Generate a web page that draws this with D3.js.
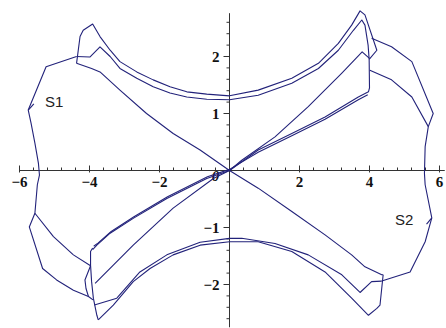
<!DOCTYPE html>
<html><head><meta charset="utf-8">
<script src="https://cdn.jsdelivr.net/npm/d3@7"></script>
<style>html,body{margin:0;padding:0;background:#fff;}svg{display:block;}</style>
</head><body>
<svg id="c" width="446" height="328"></svg>
<script>
// ---- data ----
const xMajorTicks = [-6, -4, -2, 2, 4, 6];
const yMajorTicks = [-2, -1, 1, 2];
const xTickLabels = ["\u22126", "\u22124", "\u22122", "2", "4", "6"];
const yTickLabels = ["\u22122", "\u22121", "1", "2"];
const xDomain = [-6, 6];
const yDomain = [-2, 2];
const xAxisExtent = [-6.0, 6.15];
const yAxisExtent = [-2.75, 2.76];

const s1Outer = [[-4.37,2.00],[-5.24,1.82],[-5.75,1.06],[-5.67,0.83],[-5.56,0.48],[-5.46,0.13],[-5.43,-0.08],[-5.49,-0.25],[-5.56,-0.75],[-5.72,-0.99],[-5.34,-1.72],[-4.94,-1.92],[-4.46,-2.10],[-4.03,-2.21]];
const s2Outer = [[4.06,2.32],[4.63,2.17],[5.21,1.91],[5.82,1.00],[5.68,0.77],[5.59,0.42],[5.57,-0.05],[5.59,-0.25],[5.78,-0.83],[5.59,-1.25],[5.16,-1.78],[4.44,-1.92],[4.35,-1.94]];
const topArcUpper = [[-4.37,1.88],[-4.27,2.35],[-4.18,2.46],[-3.91,2.57],[-3.70,2.35],[-3.41,2.11],[-3.13,1.91],[-2.65,1.73],[-2.18,1.59],[-1.70,1.47],[-1.22,1.38],[-0.65,1.34],[0,1.31],[0.82,1.41],[1.78,1.62],[2.54,1.88],[3.11,2.23],[3.49,2.55],[3.73,2.80],[3.87,2.73],[4.21,2.11],[3.99,1.95]];
const topArcLower = [[-4.37,2.00],[-3.99,1.99],[-3.70,2.17],[-3.41,2.00],[-3.13,1.79],[-2.65,1.62],[-2.18,1.47],[-1.70,1.36],[-1.22,1.29],[-0.65,1.25],[0,1.24],[0.82,1.32],[1.78,1.53],[2.54,1.79],[3.11,2.11],[3.54,2.46],[3.78,2.64],[3.87,2.55],[3.96,2.20],[3.99,1.95]];
const diagonalDown = [[-4.37,1.88],[-3.94,1.79],[-3.70,1.73],[-3.13,1.41],[-2.37,1.00],[-1.61,0.65],[-0.84,0.36],[0,0],[0.82,-0.31],[1.78,-0.72],[2.73,-1.13],[3.49,-1.48],[3.87,-1.69],[4.35,-1.83],[4.39,-1.83]];
const botArcLower = [[4.39,-1.83],[4.30,-2.36],[4.21,-2.42],[3.97,-2.54],[3.49,-2.24],[2.73,-1.78],[1.78,-1.42],[0.82,-1.25],[0,-1.25],[-0.84,-1.31],[-1.61,-1.48],[-2.27,-1.72],[-2.75,-1.95],[-3.32,-2.36],[-3.75,-2.62]];
const botArcUpper = [[4.35,-1.94],[4.06,-1.95],[3.73,-2.14],[3.21,-1.83],[2.25,-1.48],[1.30,-1.28],[0.35,-1.19],[0,-1.19],[-0.84,-1.26],[-1.79,-1.48],[-2.56,-1.78],[-3.22,-2.24],[-3.86,-2.36]];
const leftVertical = [[-3.91,-1.36],[-3.97,-1.42],[-3.97,-1.66],[-3.94,-1.95],[-3.89,-2.24],[-3.79,-2.54],[-3.75,-2.62]];
const strandA = [[-3.91,-1.39],[-3.79,-1.31],[-3.41,-1.10],[-2.75,-0.84],[-1.79,-0.49],[-0.65,-0.14],[0,0],[0.82,0.36],[1.78,0.65],[2.73,0.94],[3.68,1.29],[3.97,1.38],[4.00,1.45],[3.99,1.95]];
const strandB = [[-3.88,-1.33],[-3.75,-1.27],[-3.38,-1.07],[-2.73,-0.81],[-1.77,-0.46],[-0.63,-0.11],[0,0.02],[0.82,0.32],[1.78,0.61],[2.73,0.90],[3.68,1.24],[3.95,1.33]];
const singleLine = [[-3.84,-1.98],[-2.75,-1.31],[-1.61,-0.66],[-0.46,-0.14],[0,0],[0.35,0.18],[1.30,0.59],[2.25,1.12],[3.21,1.71],[3.79,2.08],[3.99,1.97]];
const innerLeft = [[-5.56,-0.75],[-5.03,-1.16],[-4.46,-1.48],[-3.97,-1.67]];
const innerRight = [[4.01,1.76],[4.63,1.59],[5.21,1.29],[5.68,0.77]];
const leftLoop = [[-3.97,-1.67],[-4.13,-1.92],[-4.10,-2.07],[-4.03,-2.21],[-3.90,-2.27]];
const arrowS1 = [[-5.75,1.06],[-5.59,1.17]];
const arrowS2 = [[5.78,-0.83],[5.63,-0.94]];
const curveLabels = [{t:"S1", x:-5.27, y:1.11}, {t:"S2", x:4.73, y:-0.96}];

// ---- drawing ----
const svg = d3.select("#c");
const xs = d3.scaleLinear().domain(xDomain).range([19.5, 439.5]);
const ys = d3.scaleLinear().domain(yDomain).range([284.5, 56.5]);
const X0 = xs(0), Y0 = ys(0);

const axisColor = "#333";
// axes lines
svg.append("line").attr("x1", xs(xAxisExtent[0])).attr("x2", xs(xAxisExtent[1]))
  .attr("y1", Y0).attr("y2", Y0).attr("stroke", axisColor).attr("stroke-width", 1);
svg.append("line").attr("x1", X0).attr("x2", X0)
  .attr("y1", ys(yAxisExtent[1])).attr("y2", ys(yAxisExtent[0])).attr("stroke", axisColor).attr("stroke-width", 1);

// minor ticks
const xMinor = d3.range(-6, 6.001, 0.4);
svg.selectAll(".xm").data(xMinor).enter().append("line")
  .attr("x1", d => xs(d)).attr("x2", d => xs(d)).attr("y1", Y0 - 3).attr("y2", Y0)
  .attr("stroke", axisColor).attr("stroke-width", 1);
const yMinor = d3.range(-2.6, 2.601, 0.2);
svg.selectAll(".ym").data(yMinor).enter().append("line")
  .attr("x1", X0 - 3).attr("x2", X0).attr("y1", d => ys(d)).attr("y2", d => ys(d))
  .attr("stroke", axisColor).attr("stroke-width", 1);
// major ticks
svg.selectAll(".xM").data(xMajorTicks).enter().append("line")
  .attr("x1", d => xs(d)).attr("x2", d => xs(d)).attr("y1", Y0 - 5).attr("y2", Y0 + 2)
  .attr("stroke", axisColor).attr("stroke-width", 1);
svg.selectAll(".yM").data(yMajorTicks).enter().append("line")
  .attr("x1", X0 - 6).attr("x2", X0).attr("y1", d => ys(d)).attr("y2", d => ys(d))
  .attr("stroke", axisColor).attr("stroke-width", 1);

// tick labels
const tickFont = "'Liberation Serif', 'DejaVu Serif', serif";
svg.selectAll(".xl").data(xMajorTicks).enter().append("text")
  .attr("x", d => xs(d)).attr("y", Y0 + 16.5).attr("text-anchor", "middle")
  .attr("font-family", tickFont).attr("font-weight", "bold").attr("font-size", 15)
  .attr("fill", "#111").text((d, i) => xTickLabels[i]);
svg.selectAll(".yl").data(yMajorTicks).enter().append("text")
  .attr("x", X0 - 10).attr("y", d => ys(d) + 5).attr("text-anchor", "end")
  .attr("font-family", tickFont).attr("font-weight", "bold").attr("font-size", 15)
  .attr("fill", "#111").text((d, i) => yTickLabels[i]);
svg.append("text").attr("x", X0 - 14).attr("y", Y0 + 10).attr("text-anchor", "middle")
  .attr("font-family", tickFont).attr("font-weight", "bold").attr("font-style", "italic").attr("font-size", 15)
  .attr("fill", "#111").text("0");

// curves
const line = d3.line().x(d => xs(d[0])).y(d => ys(d[1]));
const curveColor = "#22227a";
const curves = [s1Outer, s2Outer, topArcUpper, topArcLower, diagonalDown, botArcLower, botArcUpper,
  leftVertical, strandA, strandB, singleLine, innerLeft, innerRight, leftLoop, arrowS1, arrowS2];
svg.selectAll(".curve").data(curves).enter().append("path")
  .attr("d", line).attr("fill", "none").attr("stroke", curveColor)
  .attr("stroke-width", 1.1).attr("stroke-linejoin", "round");

// curve labels
svg.selectAll(".cl").data(curveLabels).enter().append("text")
  .attr("x", d => xs(d.x)).attr("y", d => ys(d.y))
  .attr("font-family", "'Liberation Sans', Arial, sans-serif").attr("font-size", 15)
  .attr("fill", "#222").text(d => d.t);
</script>
</body></html>
